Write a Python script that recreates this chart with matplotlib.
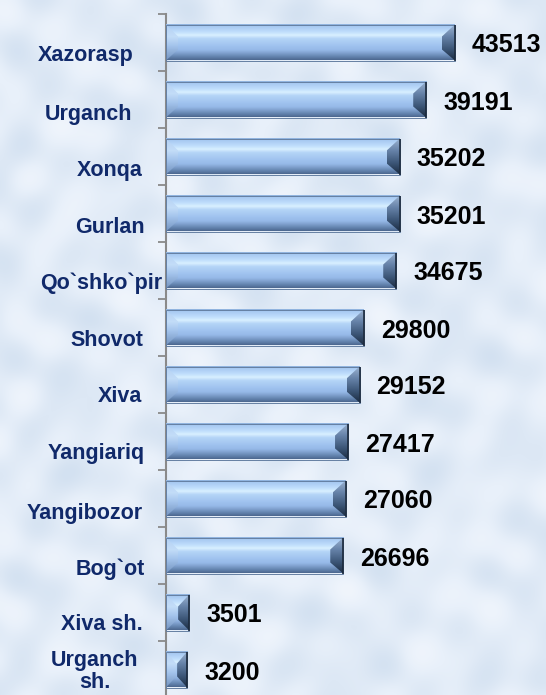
import numpy as np
import matplotlib
matplotlib.use("Agg")
import matplotlib.pyplot as plt
from matplotlib.colors import LinearSegmentedColormap
from matplotlib.patches import Polygon

# ---------------- data ----------------
categories = ["Xazorasp", "Urganch", "Xonqa", "Gurlan", "Qo`shko`pir", "Shovot",
              "Xiva", "Yangiariq", "Yangibozor", "Bog`ot", "Xiva sh.", "Urganch\nsh."]
values = [43513, 39191, 35202, 35201, 34675, 29800, 29152, 27417, 27060, 26696, 3501, 3200]

# ---------------- styling ----------------
W, H, DPI = 546, 695, 100
BG = "#dce7f4"
LABEL_COLOR = "#10296a"
label_right_px = [134, 132, 143, 145, 162, 143, 142, 145, 143, 145, 143, 143]
label_dy_px = [-13, -15, -14, -14, -13, -13, -12, -12, -15, -14, -12, -2]

fig = plt.figure(figsize=(W / DPI, H / DPI), dpi=DPI)
fig.patch.set_facecolor(BG)

# subtle deterministic background mottling
yy, xx = np.mgrid[0:H:2, 0:W:2].astype(float)
tex = (np.sin(xx / 19.3 + np.cos(yy / 41.0) * 2.1) * np.cos(yy / 27.7 + np.sin(xx / 53.0) * 1.7)
       + 0.7 * np.sin((xx * 0.61 + yy) / 11.3) * np.cos((xx - yy * 0.43) / 15.1)
       + 0.5 * np.cos((xx * 1.3 - 2 * yy) / 23.9 + np.sin(xx / 31.0)))
tex = (tex - tex.min()) / (tex.max() - tex.min())
bg_cmap = LinearSegmentedColormap.from_list("bg", ["#d3e1f1", "#dde8f5", "#e8f0fa", "#f0f5fc"])
bgax = fig.add_axes([0, 0, 1, 1], zorder=-10)
bgax.imshow(tex, cmap=bg_cmap, aspect="auto", interpolation="bicubic")
bgax.axis("off")

ax_left, ax_top, slot = 166, 14, 57
n = len(categories)
ax_h = slot * n
ax_w = 332
ax = fig.add_axes([ax_left / W, (H - ax_top - ax_h) / H, ax_w / W, ax_h / H])
ax.patch.set_alpha(0)

XMAX = 50000
ax.set_xlim(0, XMAX)
ax.set_ylim(n - 0.5, -0.5)

idx = np.arange(n)
bar_h = 36 / slot
bars = ax.barh(idx, values, height=bar_h, color="none", edgecolor="none", zorder=2)

ux = XMAX / ax_w      # data units per pixel (x)
uy = 1.0 / slot       # data units per pixel (y)

face_cmap = LinearSegmentedColormap.from_list("face", [
    (0.00, "#8aaed9"), (0.05, "#a5c7f0"), (0.22, "#c0defc"), (0.31, "#d9f0ff"),
    (0.40, "#b5d5f7"), (0.60, "#a0c3ef"), (0.72, "#96b9e8"), (0.82, "#7c9dca"),
    (0.91, "#6282ad"), (1.00, "#4b678e")])
left_cmap = LinearSegmentedColormap.from_list("left", [
    (0.0, "#b3d0f3"), (0.35, "#c3ddf8"), (0.6, "#a4c4ec"), (1.0, "#7494c0")])
right_cmap = LinearSegmentedColormap.from_list("right", [
    (0.0, "#9db4d2"), (0.35, "#6682a8"), (0.7, "#3b5576"), (1.0, "#1d2d43")])
grad = np.linspace(0, 1, 256).reshape(-1, 1)

def grad_fill(cmap, x0, x1, ytop, ybot, verts=None, z=3):
    im = ax.imshow(grad, cmap=cmap, extent=[x0, x1, ybot, ytop], origin="upper",
                   aspect="auto", interpolation="bilinear", zorder=z)
    if verts is not None:
        poly = Polygon(verts, closed=True, transform=ax.transData)
        im.set_clip_path(poly)
    return im

for r in bars.patches:
    x0 = r.get_x()
    x1 = x0 + r.get_width()
    yt = r.get_y()
    yb = yt + r.get_height()
    wpx = r.get_width() / ux
    bwl = min(12, wpx / 2 - 0.5) * ux
    bwr = min(13, wpx / 2 - 0.5) * ux
    tb = 12 * uy
    bb = 11 * uy
    grad_fill(face_cmap, x0, x1, yt, yb, z=3)
    # left bevel wedge
    grad_fill(left_cmap, x0, x0 + bwl, yt, yb,
              [(x0, yt), (x0 + bwl, yt + tb), (x0 + bwl, yb - bb), (x0, yb)], z=4)
    # right bevel wedge
    grad_fill(right_cmap, x1 - bwr, x1, yt, yb,
              [(x1, yt), (x1 - bwr, yt + tb), (x1 - bwr, yb - bb), (x1, yb)], z=4)
    ax.add_patch(Polygon([(x0, yt), (x1, yt), (x1, yb), (x0, yb)], closed=True,
                         fill=False, edgecolor="#657fa2", lw=0.7, zorder=5))
    ax.plot([x1, x1], [yt, yb], color="#1c2a3c", lw=1.2, zorder=6, solid_capstyle="butt")

# values
for i, v in enumerate(values):
    ax.annotate(f"{v}", xy=(v, i), xytext=(17, -3), textcoords="offset pixels",
                ha="left", va="center", fontsize=18, fontweight="bold",
                family="Liberation Sans", color="black", annotation_clip=False, zorder=6)

# category labels
for i, lab in enumerate(categories):
    two = "\n" in lab
    xr = (95 if two else label_right_px[i]) - ax_left
    ax.annotate(lab, xy=(0, i), xycoords=("axes pixels", "data"),
                xytext=(xr, label_dy_px[i]), textcoords="offset pixels",
                ha="center" if two else "right", va="center",
                multialignment="center", linespacing=1.12,
                fontsize=15.5, fontweight="bold", family="Liberation Sans",
                color=LABEL_COLOR, annotation_clip=False)

# axes styling
for s in ["top", "right", "bottom"]:
    ax.spines[s].set_visible(False)
ax.spines["left"].set_color("#8a8a8a")
ax.spines["left"].set_linewidth(1.5)
ax.set_xticks([])
ax.set_yticks(np.arange(-0.5, n, 1.0))
ax.set_yticklabels([])
ax.tick_params(axis="y", direction="out", length=5.5, width=1.3, color="#8a8a8a")
ax.set_xlim(0, XMAX)
ax.set_ylim(n - 0.5, -0.5)

fig.savefig("out.png", dpi=DPI, facecolor=fig.get_facecolor())
